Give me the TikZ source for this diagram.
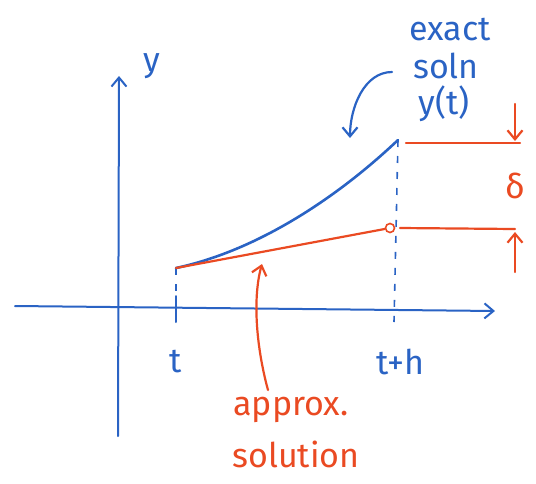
\documentclass[tikz,border=0pt]{standalone}
\usepackage{fontspec}
\setmainfont{Fira Sans}
\usetikzlibrary{arrows.meta,positioning,calc}
\definecolor{pblue}{HTML}{2A63C4}
\definecolor{pred}{HTML}{EA4A22}
\tikzset{
  axis/.style   = {pblue, line width=2pt, line cap=round},
  guide/.style  = {pblue, line width=1.6pt, dash pattern=on 7pt off 9pt},
  exact/.style  = {pblue, line width=2.6pt, line cap=round},
  approx/.style = {pred, line width=2.2pt, line cap=round},
  lbl/.style    = {font=\fontsize{34}{36}\selectfont, inner sep=1pt},
  barb/.style   = {-{Straight Barb[length=9pt,width=15pt]}},
}

\begin{document}
\begin{tikzpicture}[x=1pt,y=-1pt]
\useasboundingbox (0,0) rectangle (536,483);
% axes
\coordinate (ybot) at (118,436);
\coordinate (ytop) at (119,76);
\coordinate (tleft) at (15,306);
\coordinate (tright) at (495,311);
\draw[axis,barb] (ybot) -- (ytop);
\draw[axis,barb] (tleft) -- (tright);
\node[lbl,pblue] (ylab) at (152,66) {y};
% the step from t to t+h
\coordinate (p0) at (176,268);
\coordinate (p1) at (398,140);
\coordinate (t0top) at (176,296);
\coordinate (t0bot) at (176,322);
\coordinate (t1bot) at (394,322);
\draw[guide] (p0) -- (t0top);
\draw[axis] (t0top) -- (t0bot);
\draw[guide] (p1) -- (t1bot);
\node[lbl,pblue] (tlab) at (176,362) {t};
\node[lbl,pblue] (thlab) at (400,362) {t+h};
% exact solution
\draw[exact] (p0) .. controls (260,250) and (340,195) .. (p1);
% Euler step, ending in a small circle
\node[circle,draw=pred,line width=1.6pt,fill=white,minimum size=9pt,inner sep=0pt] (qdot) at (390,228) {};
\draw[approx] (p0) -- (qdot);
% the gap delta
\coordinate (hitop0) at (406,143);
\coordinate (hitop1) at (520,143);
\coordinate (hibot0) at (400,228);
\coordinate (hibot1) at (515,229);
\draw[approx] (hitop0) -- (hitop1);
\draw[approx] (hibot0) -- (hibot1);
\coordinate (dntail) at (515,104);
\coordinate (dnhead) at (515,141);
\coordinate (uptail) at (515,272);
\coordinate (uphead) at (515,232);
\draw[approx,barb] (dntail) -- (dnhead);
\draw[approx,barb] (uptail) -- (uphead);
\node[lbl,pred] (dlab) at (515,186) {δ};
% labels with pointers
\node[lbl,pblue] (exlab) at (450,30) {exact};
\node[lbl,pblue] (snlab) at (446,66) {soln};
\node[lbl,pblue] (ytlab) at (444,104) {y(t)};
\coordinate (sntail) at (392,72);
\coordinate (snhead) at (350,138);
\draw[exact,line width=2.2pt,barb] (sntail) .. controls (364,72) and (350,108) .. (snhead);
\node[lbl,pred] (aplab) at (291,410) {approx.};
\node[lbl,pred] (sllab) at (296,454) {solution};
\coordinate (aptail) at (268,390);
\coordinate (aphead) at (262,264);
\draw[approx,barb] (aptail) .. controls (257,350) and (252,300) .. (aphead);
\end{tikzpicture}
\end{document}
